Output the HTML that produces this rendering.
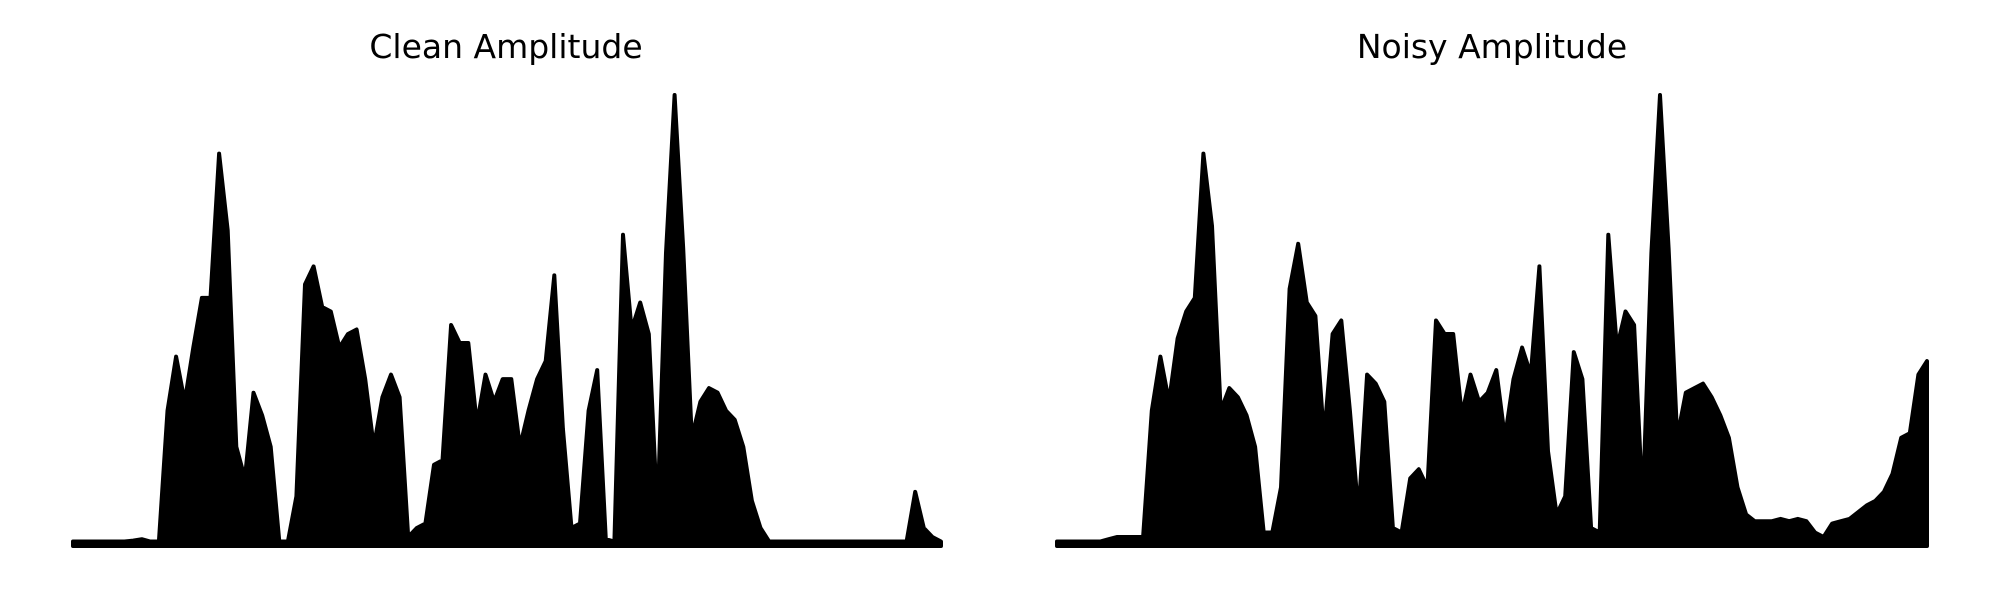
<!DOCTYPE html>
<html><head><meta charset="utf-8"><style>
html,body{margin:0;padding:0;background:#fff;}
svg{display:block;}
text{font-family:"DejaVu Sans","Liberation Sans",sans-serif;font-size:33px;fill:#000;}
</style></head><body>
<svg id="chart" width="2000" height="600" viewBox="0 0 2000 600">
<text x="506" y="58" text-anchor="middle">Clean Amplitude</text>
<text x="1492" y="58" text-anchor="middle">Noisy Amplitude</text>
<g id="clean"></g>
<g id="noisy"></g>
</svg>
<script>
const cleanValues = [.01,.01,.01,.01,.01,.01,.01,.012,.015,.01,.01,.30,.42,.32,.44,.55,.55,.87,.70,.22,.15,.34,.29,.22,.01,.01,.11,.58,.62,.53,.52,.44,.47,.48,.37,.22,.33,.38,.33,.02,.04,.05,.18,.19,.49,.45,.45,.27,.38,.32,.37,.37,.22,.30,.37,.41,.60,.26,.04,.05,.30,.39,.015,.01,.69,.48,.54,.47,.07,.65,1.0,.66,.24,.32,.35,.34,.30,.28,.22,.10,.04,.01,.01,.01,.01,.01,.01,.01,.01,.01,.01,.01,.01,.01,.01,.01,.01,.01,.12,.04,.02,.01];
const noisyValues = [.01,.01,.01,.01,.01,.01,.015,.02,.02,.02,.02,.30,.42,.32,.46,.52,.55,.87,.71,.30,.35,.33,.29,.22,.03,.03,.13,.57,.67,.54,.51,.24,.47,.50,.30,.07,.38,.36,.32,.04,.03,.15,.17,.13,.50,.47,.47,.29,.38,.32,.34,.39,.24,.37,.44,.38,.62,.21,.07,.11,.43,.37,.04,.03,.69,.44,.52,.49,.09,.65,1.0,.66,.24,.34,.35,.36,.33,.29,.24,.13,.07,.055,.055,.055,.06,.055,.06,.055,.03,.02,.05,.055,.06,.075,.09,.10,.12,.16,.24,.25,.38,.41];
const panels = [
  {id:'clean', values:cleanValues, x0:73, x1:941},
  {id:'noisy', values:noisyValues, x0:1057, x1:1927}
];
const baseY = 546, topY = 95;
function yScale(v){ return baseY - v*(baseY-topY); }
panels.forEach(p=>{
  const g = document.getElementById(p.id);
  const n = p.values.length;
  const xScale = i => p.x0 + i*(p.x1-p.x0)/(n-1);
  let pts = [xScale(0)+','+baseY];
  p.values.forEach((v,i)=>{ pts.push(xScale(i).toFixed(1)+','+yScale(v).toFixed(1)); });
  pts.push(xScale(n-1)+','+baseY);
  const poly = document.createElementNS('http://www.w3.org/2000/svg','polygon');
  poly.setAttribute('points', pts.join(' '));
  poly.setAttribute('fill','#000');
  poly.setAttribute('stroke','#000');
  poly.setAttribute('stroke-width','4');
  poly.setAttribute('stroke-linejoin','round');
  
  
  g.appendChild(poly);
});
</script>
</body></html>
